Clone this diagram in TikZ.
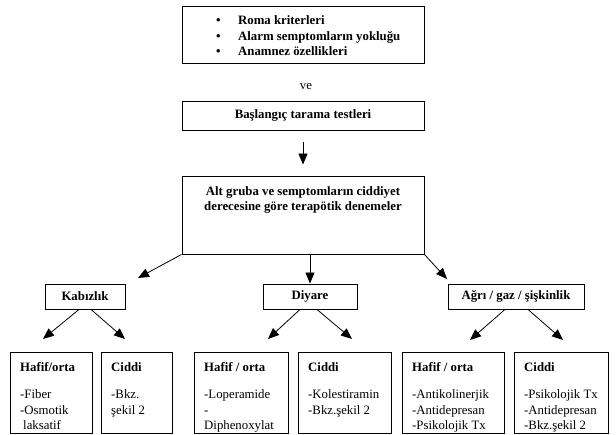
\documentclass[tikz,border=0pt]{standalone}
\usepackage{fontspec}
\setmainfont{Liberation Serif}
\usetikzlibrary{arrows.meta}
\newcommand{\topstrut}{\rule{0pt}{10pt}}
\begin{document}
\begin{tikzpicture}[x=1pt,y=-1pt,
  box/.style={draw=black, line width=0.9pt, inner sep=0pt, rectangle},
  arr/.style={draw=black, line width=0.8pt, -{Triangle[length=11pt,width=9pt]}},
  bf/.style={font=\fontsize{12.8}{15}\selectfont\bfseries, inner sep=0pt},
  rf/.style={font=\fontsize{12.8}{15}\selectfont, inner sep=0pt},
  cell/.style={font=\fontsize{12.8}{15.5}\selectfont, inner sep=0pt, anchor=north west, align=left},
]
\useasboundingbox (0,0) rectangle (616,434);

% top box
\node[box, minimum width=242pt, minimum height=57pt] (crit) at (303,34.5) {};
\node[bf, anchor=north west, align=left, font=\fontsize{12.8}{15.5}\selectfont\bfseries] (crittext) at (216,14.5)
  {\topstrut\makebox[22pt][l]{•}Roma kriterleri\\
   \makebox[22pt][l]{•}Alarm semptomların yokluğu\\
   \makebox[22pt][l]{•}Anamnez özellikleri};

\node[rf] (ve) at (306,87) {ve};

\node[box, bf, minimum width=242pt, minimum height=29pt] (scr) at (303,115.5) {Başlangıç tarama testleri};

\node[box, minimum width=242pt, minimum height=78pt] (alt) at (303,215) {};
\node[bf, align=center, anchor=north] (alttext) at (303,185)
  {\topstrut Alt gruba ve semptomların ciddiyet\\derecesine göre terapötik denemeler};

\draw[arr] ([yshift=-12pt]scr.south) -- ([yshift=11pt]alt.north);

% category boxes
\node[box, bf, minimum width=80pt, minimum height=25pt] (kab) at (85,296.5) {Kabızlık};
\node[box, bf, minimum width=94pt, minimum height=25pt] (dia) at (310,296.5) {Diyare};
\node[box, bf, minimum width=136pt, minimum height=25pt] (agr) at (516,296.5) {Ağrı / gaz / şişkinlik};

\coordinate (tipK) at (138,278);
\coordinate (tipA) at (447,279);
\draw[arr] (alt.south west) -- (tipK);
\draw[arr] (dia.north |- alt.south) -- (dia.north);
\draw[arr] (alt.south east) -- (tipA);

% bottom boxes
\node[box, minimum width=82pt, minimum height=81pt] (b1) at (51,392.5) {};
\node[box, minimum width=71pt, minimum height=81pt] (b2) at (136.5,392.5) {};
\node[box, minimum width=94pt, minimum height=81pt] (b3) at (241,392.5) {};
\node[box, minimum width=93pt, minimum height=81pt] (b4) at (344.5,392.5) {};
\node[box, minimum width=102pt, minimum height=81pt] (b5) at (453,392.5) {};
\node[box, minimum width=94pt, minimum height=81pt] (b6) at (561,392.5) {};

\node[cell] (t1) at (20,361) {\topstrut\textbf{Hafif/orta}\\[12pt]-Fiber\\-Osmotik\\\hspace{3pt}laksatif};
\node[cell] (t2) at (111,361) {\topstrut\textbf{Ciddi}\\[12pt]-Bkz.\\şekil 2};
\node[cell] (t3) at (204,361) {\topstrut\textbf{Hafif / orta}\\[12pt]-Loperamide\\-\\Diphenoxylat};
\node[cell] (t4) at (308,361) {\topstrut\textbf{Ciddi}\\[12pt]-Kolestiramin\\-Bkz.şekil 2};
\node[cell] (t5) at (412,361) {\topstrut\textbf{Hafif / orta}\\[12pt]-Antikolinerjik\\-Antidepresan\\-Psikolojik Tx};
\node[cell] (t6) at (524,361) {\topstrut\textbf{Ciddi}\\[12pt]-Psikolojik Tx\\-Antidepresan\\-Bkz.şekil 2};

% arrows to bottom boxes
\coordinate (k1) at (43,339);
\coordinate (k2) at (125,339);
\coordinate (d1) at (268,339);
\coordinate (d2) at (352,339);
\coordinate (g1) at (470,340);
\coordinate (g2) at (563,340);
\draw[arr] ([xshift=-6pt]kab.south) -- (k1);
\draw[arr] ([xshift=6pt]kab.south) -- (k2);
\draw[arr] ([xshift=-10pt]dia.south) -- (d1);
\draw[arr] ([xshift=7pt]dia.south) -- (d2);
\draw[arr] ([xshift=-11pt]agr.south) -- (g1);
\draw[arr] ([xshift=12pt]agr.south) -- (g2);
\end{tikzpicture}
\end{document}
